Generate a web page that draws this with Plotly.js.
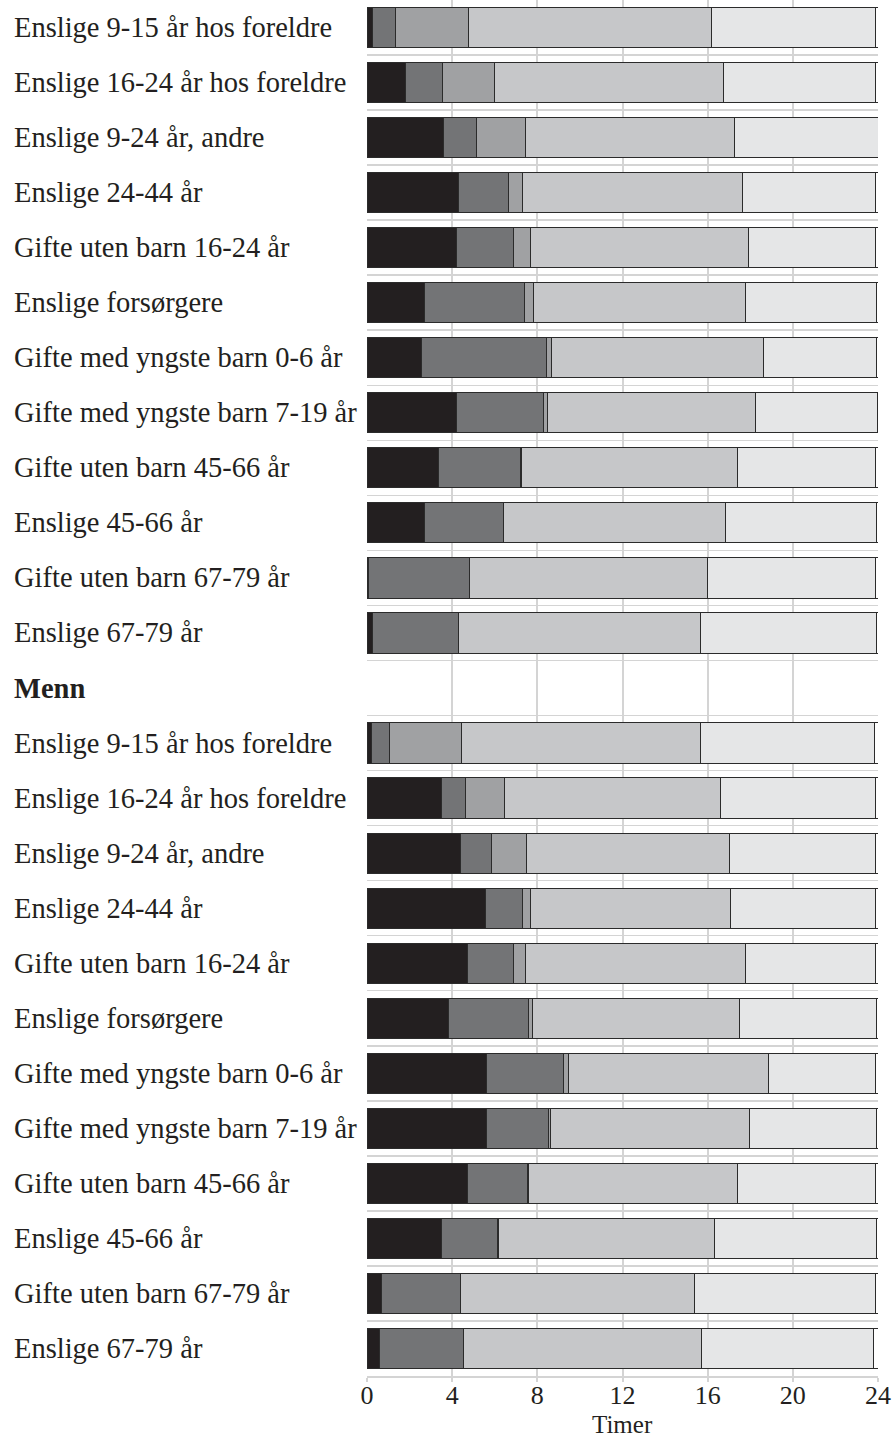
<!DOCTYPE html>
<html>
<head>
<meta charset="utf-8">
<script src="https://cdn.plot.ly/plotly-3.0.1.min.js"></script>
<style>
html,body{margin:0;padding:0;background:#fff;}
#chart{width:894px;height:1439px;}
</style>
</head>
<body>
<div id="chart"></div>
<script>
// Category labels (top to bottom)
const groupLabels = [
  "Enslige 9-15 år hos foreldre",
  "Enslige 16-24 år hos foreldre",
  "Enslige 9-24 år, andre",
  "Enslige 24-44 år",
  "Gifte uten barn 16-24 år",
  "Enslige forsørgere",
  "Gifte med yngste barn 0-6 år",
  "Gifte med yngste barn 7-19 år",
  "Gifte uten barn 45-66 år",
  "Enslige 45-66 år",
  "Gifte uten barn 67-79 år",
  "Enslige 67-79 år"
];
const sectionHeader = "Menn";

// Women (upper block), hours per day
const wSeg1 = [0.24, 1.82, 3.57, 4.30, 4.22, 2.72, 2.58, 4.22, 3.34, 2.72, 0.08, 0.24];
const wSeg2 = [1.10, 1.73, 1.55, 2.36, 2.66, 4.69, 5.87, 4.05, 3.86, 3.68, 4.75, 4.06];
const wSeg3 = [3.44, 2.42, 2.32, 0.62, 0.80, 0.41, 0.22, 0.21, 0.05, 0.03, 0.00, 0.00];
const wSeg4 = [11.41, 10.75, 9.82, 10.37, 10.24, 9.94, 9.94, 9.78, 10.14, 10.43, 11.14, 11.38];
const wSeg5 = [7.70, 7.17, 6.74, 6.21, 5.97, 6.18, 5.33, 5.72, 6.50, 7.08, 7.93, 8.24];
const wSeg6 = [0.11, 0.11, 0.03, 0.18, 0.14, 0.11, 0.11, 0.06, 0.14, 0.11, 0.13, 0.13];

// Men (lower block)
const mSeg1 = [0.21, 3.52, 4.37, 5.55, 4.74, 3.81, 5.63, 5.63, 4.72, 3.52, 0.70, 0.59];
const mSeg2 = [0.85, 1.12, 1.49, 1.76, 2.14, 3.77, 3.62, 2.90, 2.80, 2.62, 3.67, 3.94];
const mSeg3 = [3.40, 1.82, 1.63, 0.37, 0.56, 0.21, 0.22, 0.08, 0.05, 0.03, 0.02, 0.00];
const mSeg4 = [11.19, 10.13, 9.53, 9.38, 10.34, 9.70, 9.41, 9.34, 9.82, 10.15, 11.00, 11.18];
const mSeg5 = [8.17, 7.31, 6.88, 6.83, 6.12, 6.45, 5.02, 6.00, 6.51, 7.62, 8.51, 8.08];
const mSeg6 = [0.22, 0.14, 0.14, 0.14, 0.14, 0.11, 0.14, 0.10, 0.14, 0.11, 0.14, 0.26];

const xTicks = [0, 4, 8, 12, 16, 20, 24];
const xTitle = "Timer";

// ---- build ----
const colors = ["#231f20", "#737476", "#a0a1a3", "#c6c7c9", "#e5e6e7", "#ffffff"];
const wSegs = [wSeg1, wSeg2, wSeg3, wSeg4, wSeg5, wSeg6];
const mSegs = [mSeg1, mSeg2, mSeg3, mSeg4, mSeg5, mSeg6];
const n = groupLabels.length;
const wPos = groupLabels.map((_, i) => i);
const headerPos = n;
const mPos = groupLabels.map((_, i) => n + 1 + i);
const total = 2 * n + 1;

const traces = [];
for (let s = 0; s < 6; s++) {
  traces.push({
    type: "bar",
    orientation: "h",
    x: wSegs[s].concat(mSegs[s]),
    y: wPos.concat(mPos),
    width: 0.73,
    marker: { color: colors[s], line: { color: "#2b2b2b", width: 1 } },
    hoverinfo: "x",
    showlegend: false
  });
}

const font = "Liberation Serif, Times New Roman, serif";
const txtColor = "#231f20";
const plotLeft = 367, plotRight = 16, plotBottom = 63;
const plotW = 894 - plotLeft - plotRight;
const plotH = 1439 - plotBottom;
const labelX = (12 - plotLeft) / plotW;

const annotations = [];
groupLabels.forEach((lab, i) => {
  annotations.push({ text: lab, xref: "paper", yref: "y", x: labelX, y: wPos[i], xanchor: "left", yanchor: "middle", showarrow: false, font: { family: font, size: 28.5, color: txtColor } });
  annotations.push({ text: lab, xref: "paper", yref: "y", x: labelX, y: mPos[i], xanchor: "left", yanchor: "middle", showarrow: false, font: { family: font, size: 28.5, color: txtColor } });
});
annotations.push({ text: "<b>" + sectionHeader + "</b>", xref: "paper", yref: "y", x: labelX, y: headerPos, xanchor: "left", yanchor: "middle", showarrow: false, font: { family: font, size: 28.5, color: txtColor } });
// axis title
annotations.push({ text: xTitle, xref: "paper", yref: "paper", x: 0.5, y: -(1439 - plotH) / plotH, xanchor: "center", yanchor: "bottom", borderpad: 0, showarrow: false, font: { family: font, size: 25, color: txtColor } });

const layout = {
  width: 894,
  height: 1439,
  margin: { l: plotLeft, r: plotRight, t: 0, b: plotBottom },
  paper_bgcolor: "#ffffff",
  plot_bgcolor: "#ffffff",
  barmode: "stack",
  xaxis: {
    range: [0, 24],
    tickmode: "array",
    tickvals: xTicks,
    ticktext: xTicks.map(String),
    showgrid: true,
    gridcolor: "#d4d4d4",
    gridwidth: 2,
    zeroline: false,
    showline: true,
    linecolor: "#d4d4d4",
    linewidth: 2,
    ticks: "outside",
    ticklen: 4,
    tickwidth: 2,
    tickcolor: "#d4d4d4",
    ticklabelstandoff: -9,
    tickfont: { family: font, size: 26, color: txtColor },
    automargin: false,
    fixedrange: true
  },
  yaxis: {
    range: [total - 0.5, -0.5],
    tickmode: "linear",
    tick0: 0.5,
    dtick: 1,
    showticklabels: false,
    showgrid: true,
    gridcolor: "#d4d4d4",
    gridwidth: 1.5,
    zeroline: false,
    showline: false,
    ticks: "",
    automargin: false,
    fixedrange: true
  },
  annotations: annotations
};

Plotly.newPlot("chart", traces, layout, { displayModeBar: false, staticPlot: true });
</script>
</body>
</html>
